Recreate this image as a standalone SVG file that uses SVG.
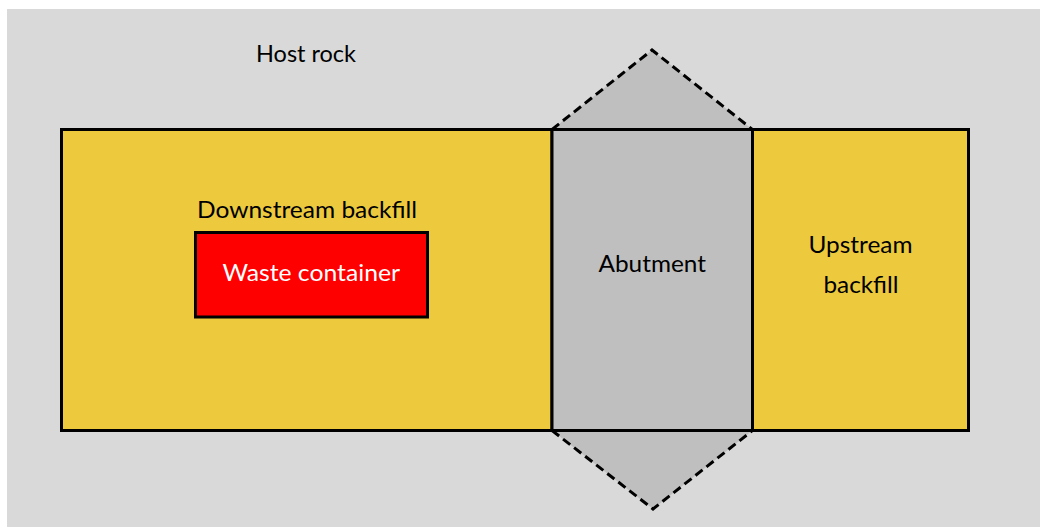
<svg xmlns="http://www.w3.org/2000/svg" width="1040" height="527" viewBox="0 0 1040 527">
<style>
.lbl{font-family:Lato,"Open Sans","Liberation Sans",sans-serif;font-size:22.5px;fill:#000}
.solid{stroke:#000;stroke-width:3}
.dash{stroke:#000;stroke-width:3;stroke-dasharray:9 5;fill:#bfbfbf}
</style>
<rect x="7" y="9" width="1033" height="518" fill="#d9d9d9"/>
<text class="lbl" x="256" y="61.5" textLength="100" lengthAdjust="spacingAndGlyphs">Host rock</text>
<g id="abutment-wedges">
<polygon class="dash" points="552,129.5 652,50 752.5,129.5"/>
<polygon class="dash" points="552,430.5 653,509 752.5,430.5"/>
</g>
<g id="downstream-backfill">
<rect class="solid" x="61.5" y="129.5" width="490.5" height="301" fill="#ecc93d"/>
<text class="lbl" x="197" y="218" textLength="220" lengthAdjust="spacingAndGlyphs">Downstream backfill</text>
</g>
<g id="upstream-backfill">
<rect class="solid" x="752.5" y="129.5" width="216" height="301" fill="#ecc93d"/>
<text class="lbl" x="808.5" y="253" textLength="104" lengthAdjust="spacingAndGlyphs">Upstream</text>
<text class="lbl" x="823.5" y="292.5" textLength="75" lengthAdjust="spacingAndGlyphs">backfill</text>
</g>
<g id="abutment">
<rect class="solid" x="552" y="129.5" width="200.5" height="301" fill="#bfbfbf"/>
<text class="lbl" x="598.5" y="271.5" textLength="107.5" lengthAdjust="spacingAndGlyphs">Abutment</text>
</g>
<g id="waste-container">
<rect class="solid" x="195.5" y="232.5" width="232" height="84.5" fill="#ff0000"/>
<text class="lbl" x="222.5" y="280.5" textLength="177.5" lengthAdjust="spacingAndGlyphs" style="fill:#fff">Waste container</text>
</g>
<g id="connectors"/>
</svg>
